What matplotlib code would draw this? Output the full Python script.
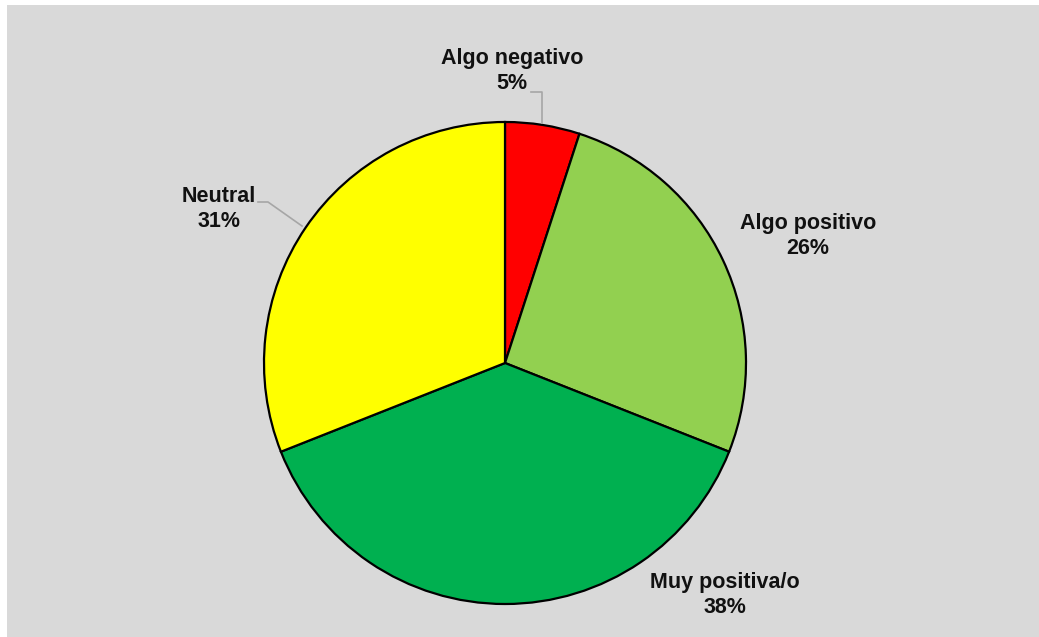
import matplotlib
matplotlib.use("Agg")
import matplotlib.pyplot as plt
from matplotlib.patches import Rectangle

categories = ["Algo negativo", "Algo positivo", "Muy positiva/o", "Neutral"]
values = [5, 26, 38, 31]
colors = ["#FF0000", "#92D050", "#00B050", "#FFFF00"]

W, H = 1039, 637
fig = plt.figure(figsize=(W / 100, H / 100), dpi=100)
fig.patch.set_facecolor("white")
ax = fig.add_axes([0, 0, 1, 1])
ax.add_patch(Rectangle((7, 5), W - 7, H - 5, facecolor="#D9D9D9", edgecolor="none", zorder=0))

cx, cy, r = 505, 363, 241
# y axis inverted: counterclock=True gives clockwise visually
wedges, _ = ax.pie(values, colors=colors, startangle=-90, counterclock=True,
                   center=(cx, cy), radius=r, frame=True,
                   wedgeprops=dict(edgecolor="black", linewidth=1.6))
ax.set_xlim(0, W)
ax.set_ylim(H, 0)
ax.set_aspect("equal")
ax.axis("off")

label_pos = [(512, 71), (808, 236), (725, 595), (219, 209)]
for name, v, (x, y) in zip(categories, values, label_pos):
    ax.text(x, y, f"{name}\n{v}%", ha="center", va="center", fontsize=15.5,
            fontweight="bold", family="Liberation Sans", color="#111111",
            linespacing=1.2, zorder=5)

lc = "#A6A6A6"
ax.plot([531, 542, 542], [92, 92, 123], color=lc, lw=1.2, zorder=1)
ax.plot([258, 268, 302], [202, 202, 226], color=lc, lw=1.2, zorder=1)

fig.savefig("out.png", dpi=100)
